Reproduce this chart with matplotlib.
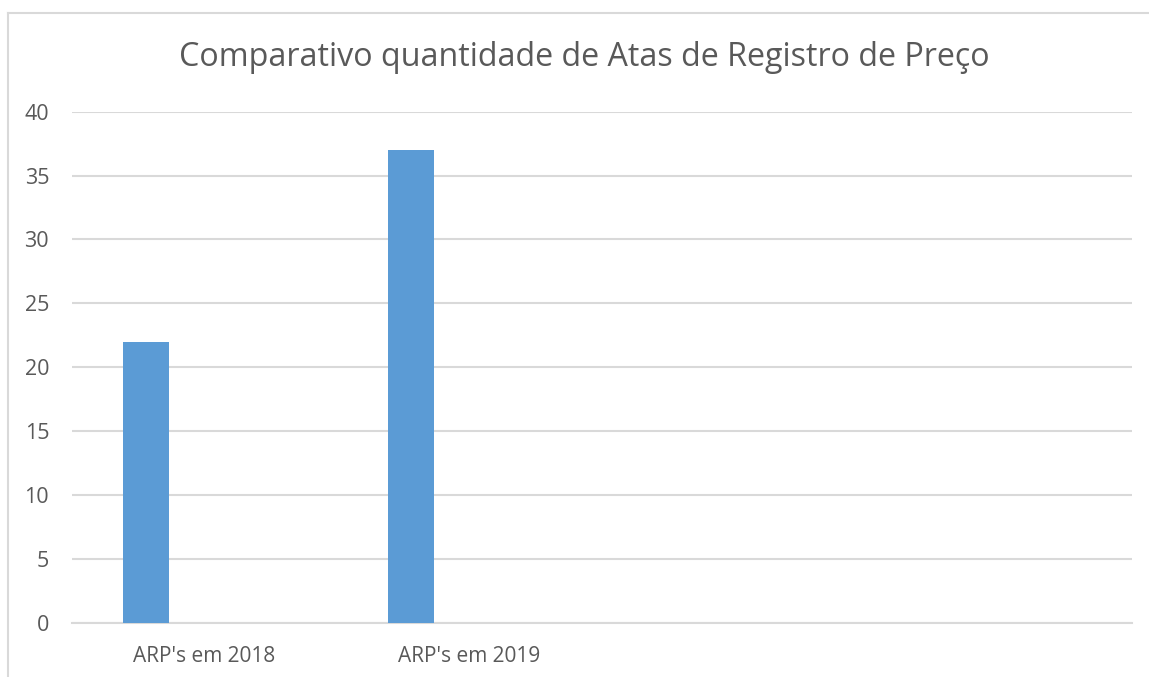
import matplotlib
matplotlib.use("Agg")
import matplotlib.pyplot as plt
from matplotlib.lines import Line2D

# chart data
categories = ["ARP's em 2018", "ARP's em 2019", "", ""]
values = [22, 37]
title = "Comparativo quantidade de Atas de Registro de Preço"

grid_c = "#d9d9d9"
text_c = "#595959"
bar_c = "#5b9bd5"

plt.rcParams['font.family'] = ['Open Sans', 'DejaVu Sans']

fig = plt.figure(figsize=(11.49, 6.77), dpi=100)
ax = fig.add_axes([72 / 1149, 1 - 622.7 / 677, (1132 - 72) / 1149, (622.7 - 111.7) / 677])

xs = list(range(len(categories)))
ax.bar([x - 0.22 for x in xs[:len(values)]], values, width=0.175, color=bar_c, zorder=3)

ax.set_ylim(0, 40)
ax.set_yticks(range(0, 41, 5))
ax.set_xlim(-0.5, len(categories) - 0.5)
ax.set_xticks(xs)
ax.set_xticklabels(categories)
ax.yaxis.grid(True, color=grid_c, linewidth=1.5, zorder=0)
for s in ["top", "right", "left"]:
    ax.spines[s].set_visible(False)
ax.spines["bottom"].set_color(grid_c)
ax.spines["bottom"].set_linewidth(1.5)
ax.tick_params(axis="both", length=0, colors=text_c, labelsize=15)
ax.tick_params(axis="y", labelsize=15.5, pad=16.5)
ax.tick_params(axis="x", pad=17)

fig.text(584 / 1149, 1 - 66 / 677, title, ha="center", va="baseline", fontsize=23.2, color=text_c)

# chart area border (cropped on right/bottom)
bx = 8.3 / 1149
by = 1 - 13.3 / 677
fig.add_artist(Line2D([bx, bx], [0, by], color=grid_c, linewidth=1.5, transform=fig.transFigure))
fig.add_artist(Line2D([bx, 1], [by, by], color=grid_c, linewidth=1.5, transform=fig.transFigure))

plt.savefig("out.png", dpi=100)
